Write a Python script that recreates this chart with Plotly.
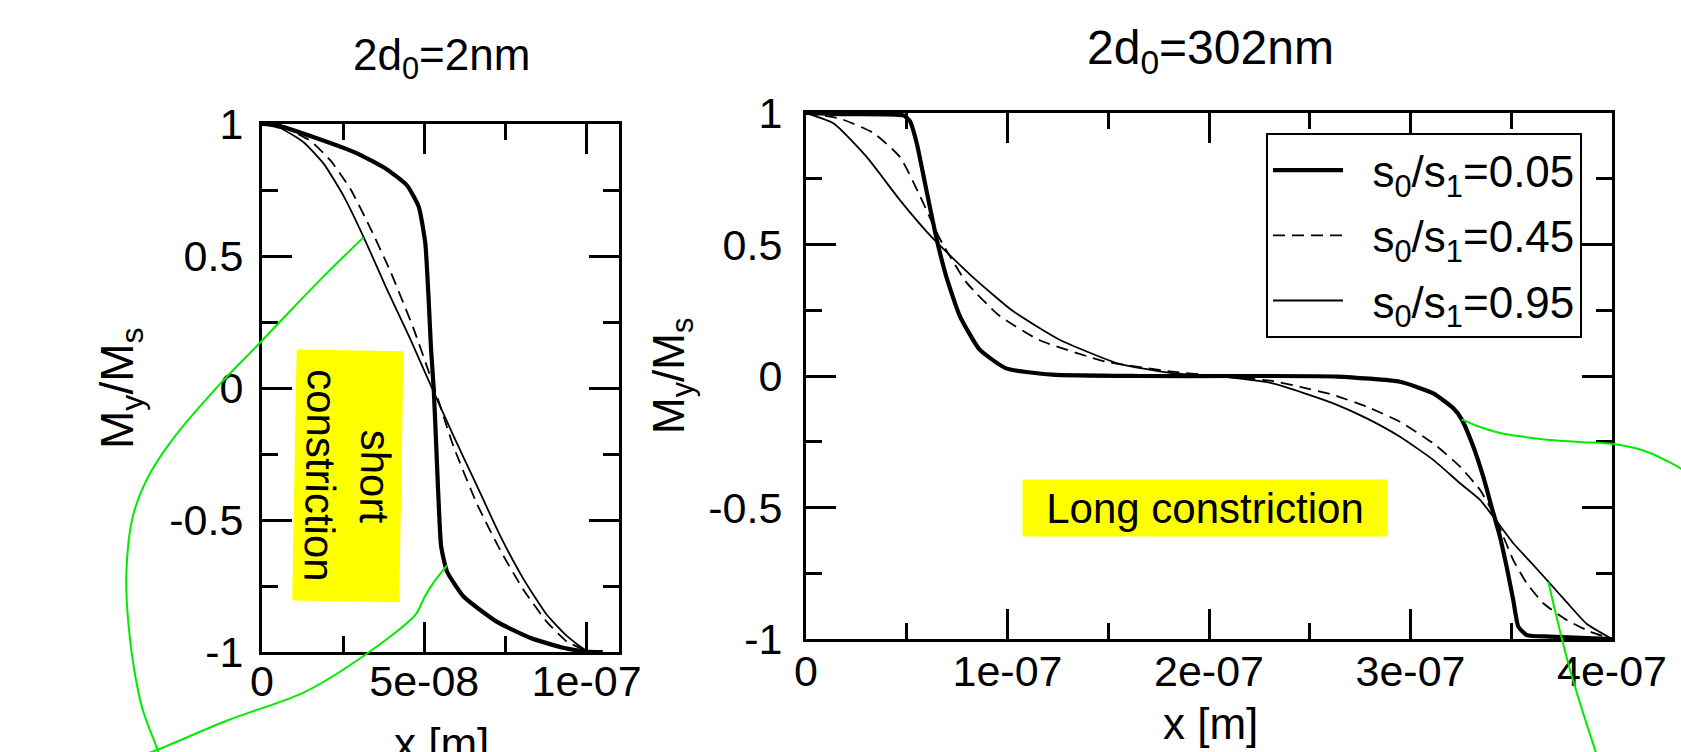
import plotly.graph_objects as go

W, H = 1681, 752
FONT = "Liberation Sans, Arial, Helvetica, sans-serif"

# ---------------- data ----------------
series_names = ["s<sub>0</sub>/s<sub>1</sub>=0.05",
                "s<sub>0</sub>/s<sub>1</sub>=0.45",
                "s<sub>0</sub>/s<sub>1</sub>=0.95"]

# Left panel: 2d0 = 2 nm (short constriction)
left_x_005 = [0, 4.7e-9, 1.6e-8, 2.93e-8, 3.85e-8, 4.47e-8, 4.83e-8, 5.03e-8, 5.13e-8, 5.21e-8,
              5.29e-8, 5.36e-8, 5.43e-8, 5.52e-8, 5.70e-8, 6.21e-8, 7.23e-8, 8.26e-8, 9.28e-8,
              1.0e-7, 1.05e-7]
left_y_005 = [1, 0.995, 0.95, 0.889, 0.828, 0.767, 0.686, 0.55, 0.347, 0.144,
              0, -0.194, -0.398, -0.6, -0.695, -0.790, -0.885, -0.946, -0.984,
              -0.998, -1]

left_x_045 = [0, 6.76e-9, 1.496e-8, 2.11e-8, 2.725e-8, 3.34e-8, 3.955e-8, 4.67e-8, 5.31e-8,
              5.90e-8, 6.62e-8, 7.34e-8, 8.05e-8, 8.77e-8, 9.39e-8, 1.0e-7, 1.03e-7]
left_y_045 = [1, 0.987, 0.936, 0.862, 0.754, 0.605, 0.442, 0.225, 0,
              -0.221, -0.438, -0.614, -0.763, -0.885, -0.960, -0.995, -1]

left_x_095 = [0, 5.74e-9, 1.29e-8, 1.91e-8, 2.52e-8, 3.135e-8, 3.85e-8, 4.57e-8, 5.236e-8,
              5.90e-8, 6.62e-8, 7.34e-8, 8.05e-8, 8.77e-8, 9.39e-8, 1.0e-7, 1.03e-7]
left_y_095 = [1, 0.984, 0.930, 0.848, 0.726, 0.571, 0.374, 0.185, 0,
              -0.181, -0.370, -0.560, -0.722, -0.858, -0.939, -0.995, -1]

# Right panel: 2d0 = 302 nm (long constriction)
right_x_005 = [0, 1.71e-8, 4.83e-8, 5.16e-8, 5.49e-8, 5.98e-8, 6.48e-8, 6.97e-8, 7.63e-8, 8.61e-8,
               9.93e-8, 1.223e-7, 1.65e-7, 2.14e-7, 2.636e-7, 2.948e-7, 3.113e-7, 3.213e-7,
               3.254e-7, 3.312e-7, 3.361e-7, 3.403e-7, 3.444e-7, 3.477e-7, 3.510e-7, 3.535e-7,
               3.577e-7, 3.692e-7, 4.0e-7]
right_y_005 = [1, 0.996, 0.991, 0.969, 0.887, 0.705, 0.522, 0.376, 0.229, 0.101,
               0.029, 0.005, 0, 0, -0.002, -0.022, -0.066, -0.123,
               -0.165, -0.269, -0.383, -0.499, -0.611, -0.725, -0.852, -0.953,
               -0.985, -0.991, -1]

right_x_045 = [0, 1.71e-8, 3.35e-8, 4.67e-8, 5.65e-8, 6.64e-8, 7.95e-8, 9.6e-8, 1.157e-7,
               1.486e-7, 1.814e-7, 2.044e-7, 2.307e-7, 2.452e-7, 2.617e-7, 2.783e-7, 2.948e-7,
               3.113e-7, 3.246e-7, 3.345e-7, 3.411e-7, 3.461e-7, 3.510e-7, 3.577e-7, 3.659e-7,
               3.775e-7, 3.891e-7, 4.0e-7]
right_y_045 = [1, 0.978, 0.924, 0.832, 0.686, 0.522, 0.357, 0.229, 0.137,
               0.055, 0.017, 0, -0.018, -0.041, -0.072, -0.117, -0.174,
               -0.256, -0.345, -0.433, -0.522, -0.611, -0.700, -0.788, -0.864,
               -0.928, -0.972, -1]

right_x_095 = [0, 1.38e-8, 3.02e-8, 4.67e-8, 6.31e-8, 8.28e-8, 1.025e-7, 1.256e-7, 1.551e-7,
               1.814e-7, 2.044e-7, 2.307e-7, 2.452e-7, 2.617e-7, 2.783e-7, 2.948e-7, 3.113e-7,
               3.246e-7, 3.345e-7, 3.411e-7, 3.510e-7, 3.609e-7, 3.684e-7, 3.775e-7, 3.874e-7,
               4.0e-7]
right_y_095 = [1, 0.960, 0.832, 0.668, 0.522, 0.376, 0.248, 0.139, 0.047,
               0.011, 0, -0.026, -0.060, -0.104, -0.161, -0.231, -0.319,
               -0.408, -0.471, -0.535, -0.636, -0.718, -0.782, -0.860, -0.942,
               -1]

# Green leader curves (in the data units of the panel they start from)
green_left_a_x = [3.127e-8, 1.991e-8, 9.85e-9, -2.5e-10, -1.284e-8, -2.796e-8, -3.552e-8,
                  -3.991e-8, -4.182e-8, -4.117e-8, -3.929e-8, -3.676e-8, -3.238e-8, -3.194e-8]
green_left_a_y = [0.5705, 0.4341, 0.3068, 0.1761, 0.0163, -0.2015, -0.3470,
                  -0.4924, -0.7102, -0.8920, -1.0739, -1.2189, -1.3644, -1.3826]
green_left_b_x = [5.707e-8, 5.269e-8, 5.015e-8, 4.762e-8, 4.512e-8, 3.883e-8, 3.250e-8,
                  2.244e-8, 1.235e-8, -1.031e-8, -3.238e-8, -3.765e-8]
green_left_b_y = [-0.6705, -0.7398, -0.7905, -0.8534, -0.8852, -0.9481, -1.0049,
                  -1.0871, -1.1564, -1.2576, -1.3712, -1.394]
green_right_c_x = [3.254e-7, 3.345e-7, 3.444e-7, 3.568e-7, 3.692e-7, 3.841e-7, 4.006e-7,
                   4.114e-7, 4.189e-7, 4.263e-7, 4.337e-7, 4.387e-7]
green_right_c_y = [-0.1646, -0.1939, -0.2167, -0.2319, -0.2433, -0.2510, -0.2586,
                   -0.2738, -0.2928, -0.3194, -0.3498, -0.3802]
green_right_d_x = [3.684e-7, 3.792e-7, 3.926e-7]
green_right_d_y = [-0.7821, -1.1179, -1.4449]

# ticks
left_xtick_vals = [0, 5e-8, 1e-7]
left_xtick_text = ["0", "5e-08", "1e-07"]
right_xtick_vals = [0, 1e-7, 2e-7, 3e-7, 4e-7]
right_xtick_text = ["0", "1e-07", "2e-07", "3e-07", "4e-07"]
ytick_vals = [-1, -0.5, 0, 0.5, 1]
ytick_text = ["-1", "-0.5", "0", "0.5", "1"]

# ---------------- layout geometry ----------------
L_DX = [262 / W, 619 / W]
L_DY = [1 - 652 / H, 1 - 124 / H]
R_DX = [806 / W, 1612 / W]
R_DY = [1 - 639 / H, 1 - 113 / H]
L_XR = [0, 1.1e-7]
R_XR = [0, 4e-7]
YR = [-1, 1]


def extend(rng, dom):
    u = (rng[1] - rng[0]) / (dom[1] - dom[0])
    return [rng[0] - dom[0] * u, rng[1] + (1 - dom[1]) * u]


fig = go.Figure()

line_styles = [dict(color="black", width=4.2, dash="solid"),
               dict(color="black", width=1.8, dash="12px,7px"),
               dict(color="black", width=1.8, dash="solid")]

left_sets = [(left_x_005, left_y_005), (left_x_045, left_y_045), (left_x_095, left_y_095)]
right_sets = [(right_x_005, right_y_005), (right_x_045, right_y_045), (right_x_095, right_y_095)]

LEGEND_PAD = "\u00a0\u00a0"  # gap between legend sample line and its label

for (xs, ys), st, nm in zip(left_sets, line_styles, series_names):
    fig.add_trace(go.Scatter(x=xs, y=ys, mode="lines", line=dict(shape="spline", smoothing=0.5, **st),
                             name=nm, showlegend=False, xaxis="x", yaxis="y", hoverinfo="skip"))
for i, ((xs, ys), st, nm) in enumerate(zip(right_sets, line_styles, series_names)):
    fig.add_trace(go.Scatter(x=xs, y=ys, mode="lines", line=dict(shape="spline", smoothing=0.5, **st),
                             name=LEGEND_PAD + nm, showlegend=True, legendgroup="g%d" % i,
                             xaxis="x2", yaxis="y2", hoverinfo="skip"))

GREEN = "rgb(0,235,0)"
for xs, ys in [(green_left_a_x, green_left_a_y), (green_left_b_x, green_left_b_y)]:
    fig.add_trace(go.Scatter(x=xs, y=ys, mode="lines", line=dict(color=GREEN, width=2, shape="spline"),
                             showlegend=False, xaxis="x3", yaxis="y3", hoverinfo="skip"))
for xs, ys in [(green_right_c_x, green_right_c_y), (green_right_d_x, green_right_d_y)]:
    fig.add_trace(go.Scatter(x=xs, y=ys, mode="lines", line=dict(color=GREEN, width=2, shape="spline"),
                             showlegend=False, xaxis="x4", yaxis="y4", hoverinfo="skip"))

axis_common = dict(showgrid=False, zeroline=False, showline=True, linecolor="black", linewidth=3,
                   mirror="allticks", ticks="inside", ticklen=30, tickwidth=2.5, tickcolor="black",
                   automargin=False,
                   tickfont=dict(family=FONT, size=43, color="black"))
hidden = dict(domain=[0, 1], visible=False, fixedrange=True, automargin=False,
              showgrid=False, zeroline=False)

fig.update_layout(
    template="none",
    width=W, height=H,
    margin=dict(l=0, r=0, t=0, b=0, pad=0, autoexpand=False),
    paper_bgcolor="white", plot_bgcolor="rgba(0,0,0,0)",
    font=dict(family=FONT, color="black"),
    xaxis=dict(domain=L_DX, range=L_XR, anchor="y", tickvals=left_xtick_vals, ticktext=left_xtick_text,
               ticklabelstandoff=-11,
               minor=dict(dtick=2.5e-8, tick0=0, ticks="inside", ticklen=16, tickwidth=2.5, tickcolor="black"),
               **axis_common),
    yaxis=dict(domain=L_DY, range=YR, anchor="x", tickvals=ytick_vals, ticktext=ytick_text,
               ticklabelstandoff=7,
               minor=dict(dtick=0.25, tick0=0, ticks="inside", ticklen=16, tickwidth=2.5, tickcolor="black"),
               **axis_common),
    xaxis2=dict(domain=R_DX, range=R_XR, anchor="y2", tickvals=right_xtick_vals, ticktext=right_xtick_text,
                ticklabelstandoff=-8,
                minor=dict(dtick=5e-8, tick0=0, ticks="inside", ticklen=16, tickwidth=2.5, tickcolor="black"),
                **axis_common),
    yaxis2=dict(domain=R_DY, range=YR, anchor="x2", tickvals=ytick_vals, ticktext=ytick_text,
                ticklabelstandoff=12,
                minor=dict(dtick=0.25, tick0=0, ticks="inside", ticklen=16, tickwidth=2.5, tickcolor="black"),
                **axis_common),
    xaxis3=dict(range=extend(L_XR, L_DX), anchor="y3", **hidden),
    yaxis3=dict(range=extend(YR, L_DY), anchor="x3", **hidden),
    xaxis4=dict(range=extend(R_XR, R_DX), anchor="y4", **hidden),
    yaxis4=dict(range=extend(YR, R_DY), anchor="x4", **hidden),
    legend=dict(x=1266 / W, y=1 - 133 / H, xanchor="left", yanchor="top", bgcolor="white",
                bordercolor="black", borderwidth=2, font=dict(family=FONT, size=44, color="black"),
                itemwidth=70, tracegroupgap=5),
    showlegend=True,
)

ann_common = dict(showarrow=False, xanchor="center", yanchor="middle")
annotations = [
    dict(text="2d<sub>0</sub>=2nm", xref="paper", yref="paper", x=441 / W, y=1 - 58 / H,
         font=dict(size=44), **ann_common),
    dict(text="2d<sub>0</sub>=302nm", xref="paper", yref="paper", x=1210 / W, y=1 - 51 / H,
         font=dict(size=48), **ann_common),
    dict(text="M<sub>y</sub>/M<sub>s</sub>", xref="paper", yref="paper", x=120 / W, y=1 - 388 / H,
         textangle=-90, font=dict(size=46), **ann_common),
    dict(text="M<sub>y</sub>/M<sub>s</sub>", xref="paper", yref="paper", x=672 / W, y=1 - 376 / H,
         textangle=-90, font=dict(size=44), **ann_common),
    dict(text="x [m]", xref="paper", yref="paper", x=441 / W, y=1 - 743 / H,
         font=dict(size=44), **ann_common),
    dict(text="x [m]", xref="paper", yref="paper", x=1210 / W, y=1 - 723 / H,
         font=dict(size=44), **ann_common),
    dict(text="Long constriction", xref="x2", yref="y2", x=1.98e-7, y=-0.5,
         bgcolor="#ffff00", width=362, height=54, font=dict(size=42), **ann_common),
    dict(text="short<br>constriction", xref="x", yref="y", x=2.65e-8, y=-0.333,
         bgcolor="#ffff00", width=248, height=104, textangle=91, font=dict(size=42), **ann_common),
]
fig.update_layout(annotations=annotations)

fig.write_html("out.html", config={"displayModeBar": False},
               post_script="document.body.style.margin='0';")
